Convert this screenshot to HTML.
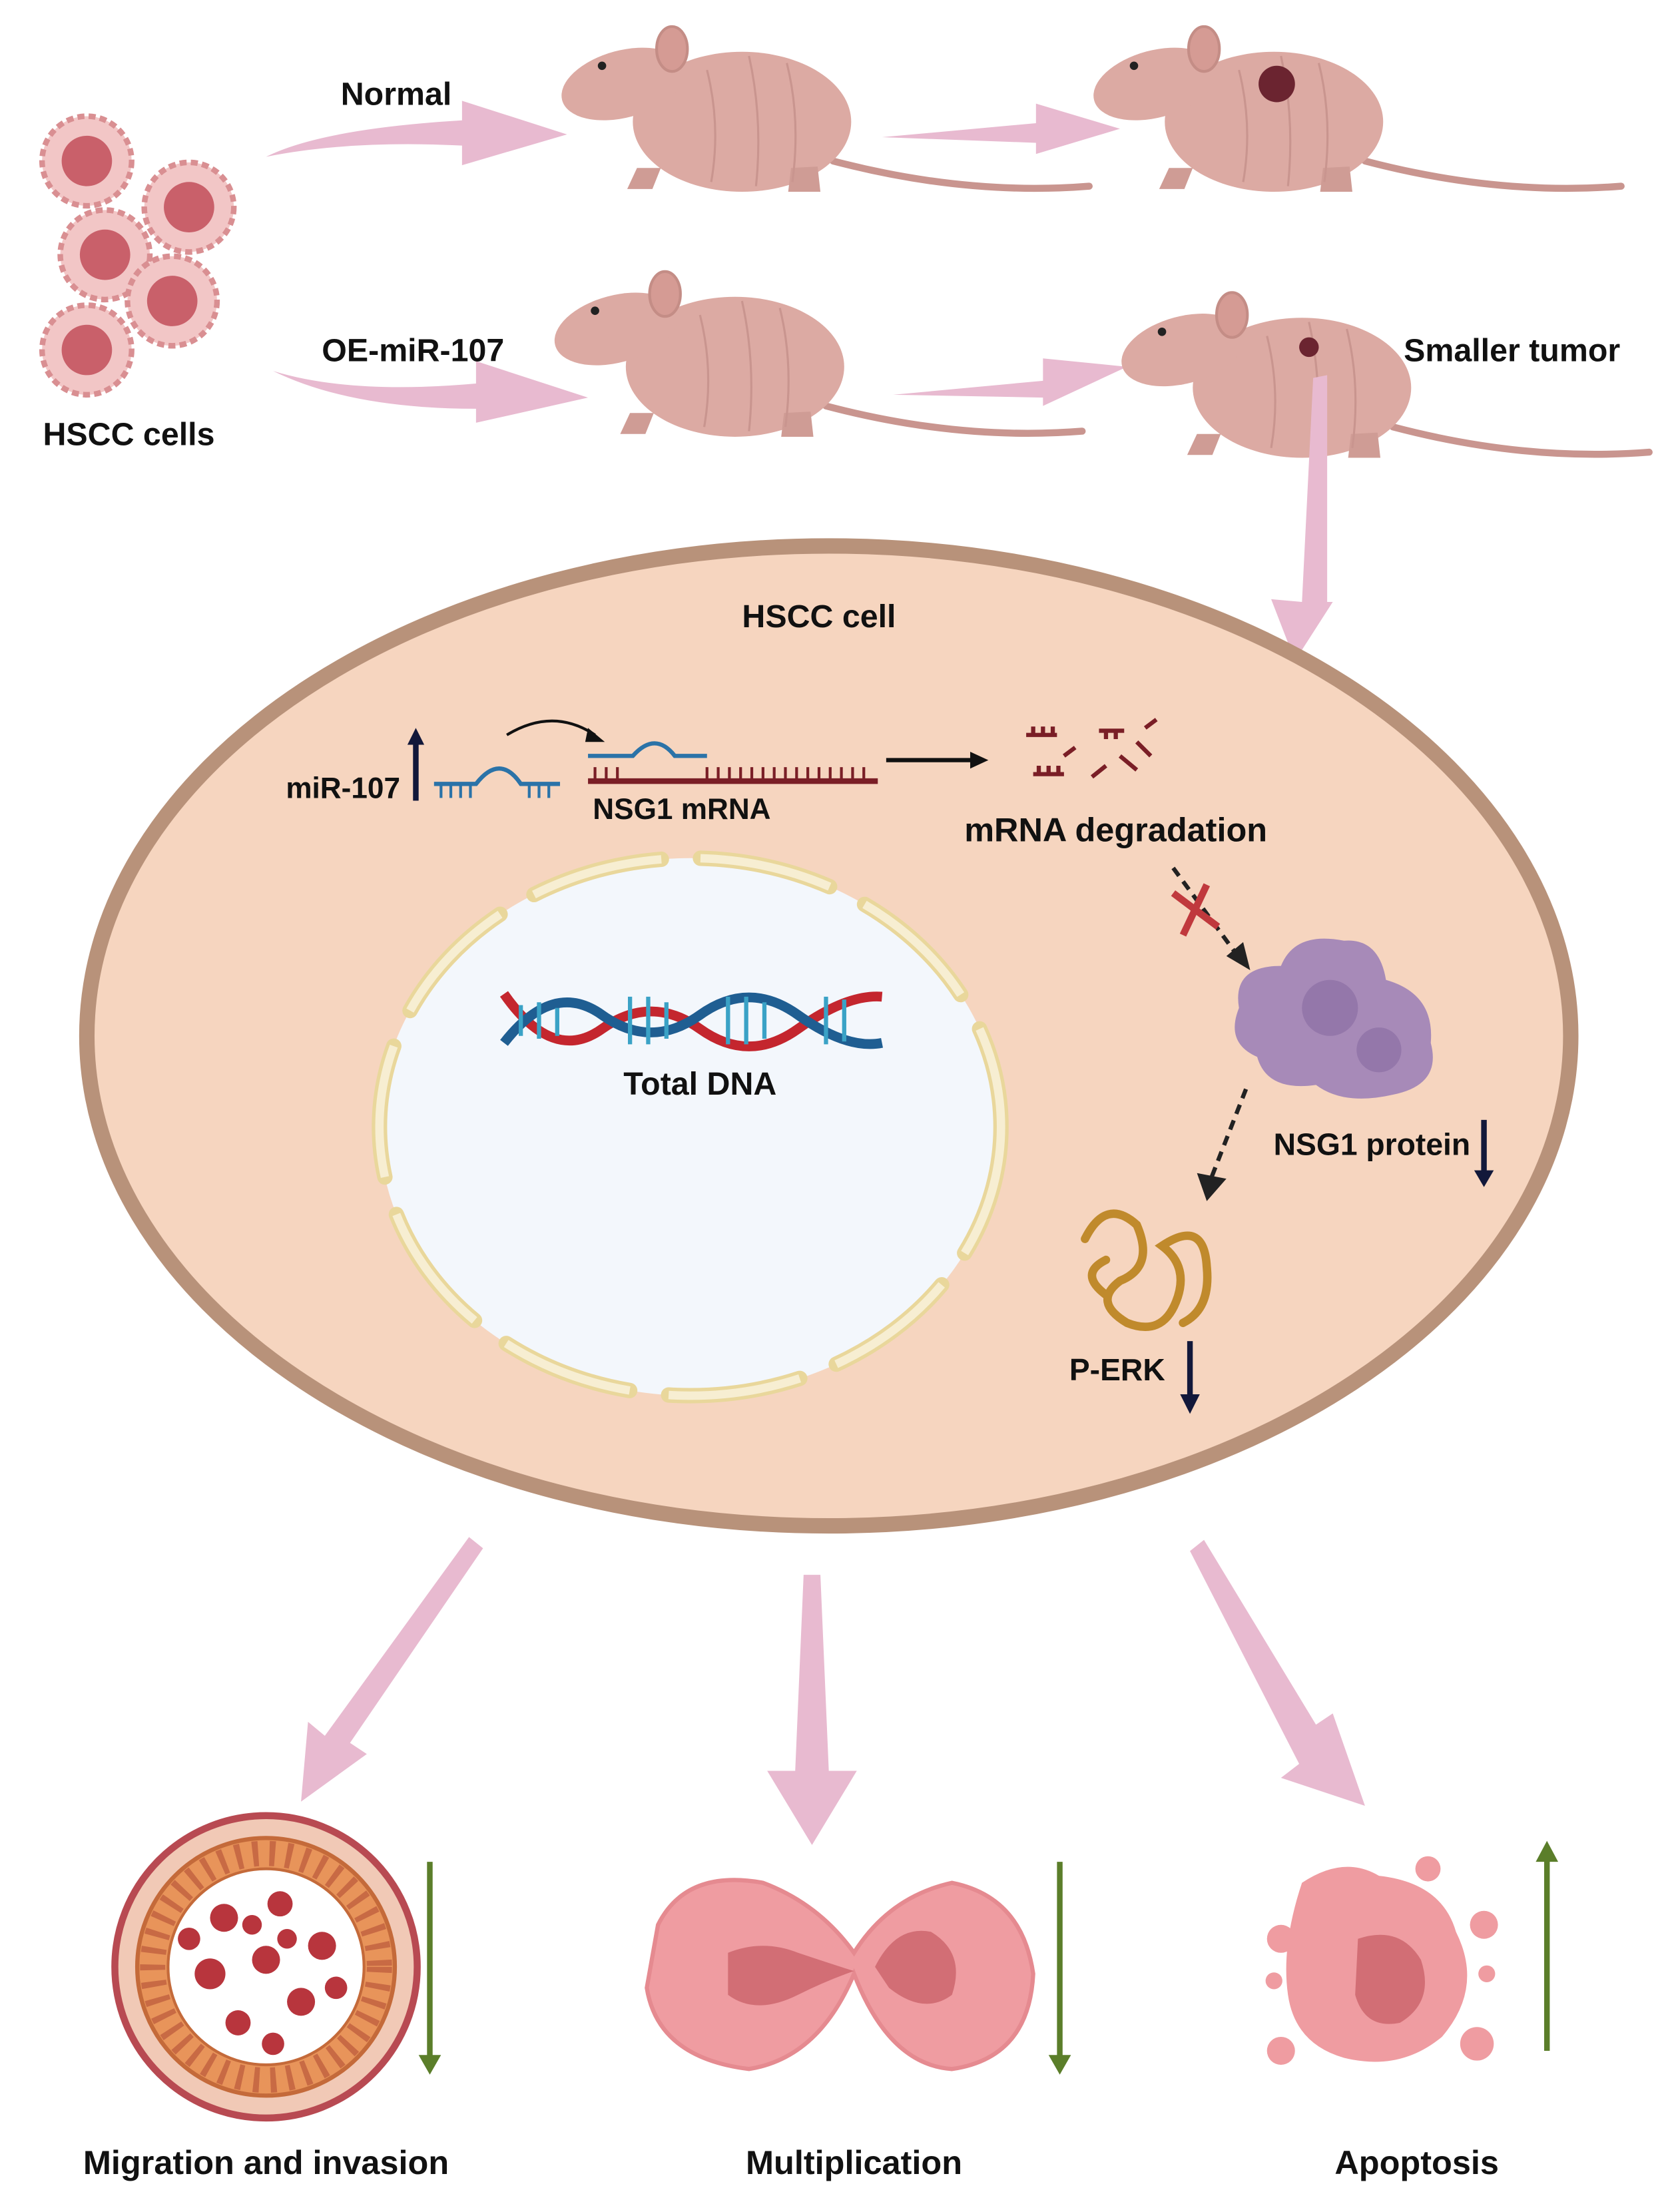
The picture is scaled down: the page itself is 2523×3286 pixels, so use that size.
<!DOCTYPE html>
<html><head><meta charset="utf-8"><style>
html,body{margin:0;padding:0;background:#fff}
svg{display:block}
text{font-family:"Liberation Sans",Arial,sans-serif;font-weight:bold;fill:#111}
</style></head><body>
<svg width="2523" height="3286" viewBox="0 0 1200 1563" xmlns="http://www.w3.org/2000/svg">
<defs>
<g id="mouse">
  <path d="M195,100 Q290,125 378,118" stroke="#c9958f" stroke-width="5" fill="none" stroke-linecap="round"/>
  <ellipse cx="130" cy="72" rx="78" ry="50" fill="#dcaaa3"/>
  <ellipse cx="45" cy="45" rx="45" ry="24" fill="#dcaaa3" transform="rotate(-15 45 45)"/>
  <ellipse cx="80" cy="20" rx="11" ry="16" fill="#d59b94" stroke="#c48d86" stroke-width="2"/>
  <ellipse cx="30" cy="32" rx="3" ry="3" fill="#222"/>
  <path d="M55,105 L48,120 L66,120 L72,105 Z M165,105 L163,122 L186,122 L184,104 Z" fill="#cf9c95"/>
  <path d="M105,35 Q115,75 108,115 M135,25 Q145,70 140,118 M162,30 Q172,70 166,115" stroke="#c9958f" stroke-width="1.5" fill="none"/>
</g>
<g id="cell">
  <circle r="32" fill="#f2c6c6" stroke="#d98f92" stroke-width="4" stroke-dasharray="5 3"/>
  <circle r="18" fill="#c9606a"/>
</g>
</defs>

<!-- HSCC cells -->
<use href="#cell" x="62" y="115"/><use href="#cell" x="135" y="148"/><use href="#cell" x="75" y="182"/>
<use href="#cell" x="123" y="215"/><use href="#cell" x="62" y="250"/>
<text x="92" y="318" font-size="23" text-anchor="middle">HSCC cells</text>

<!-- arrows top -->
<path d="M190,112 Q230,92 330,86 L330,72 L405,96 L330,118 L330,104 Q250,100 190,112 Z" fill="#e8bad0"/>
<path d="M630,98 L740,88 L740,74 L800,92 L740,110 L740,102 Z" fill="#e8bad0"/>
<path d="M195,265 Q250,282 340,274 L340,258 L420,284 L340,302 L340,292 Q250,292 195,265 Z" fill="#e8bad0"/>
<path d="M638,282 L745,272 L745,256 L805,262 L745,290 L745,284 Z" fill="#e8bad0"/>
<text x="283" y="75" font-size="23" text-anchor="middle">Normal</text>
<text x="295" y="258" font-size="23" text-anchor="middle">OE-miR-107</text>

<use href="#mouse" x="400" y="15"/>
<use href="#mouse" x="780" y="15"/>
<use href="#mouse" x="395" y="190"/>
<use href="#mouse" x="800" y="205"/>
<circle cx="912" cy="60" r="13" fill="#6b2430"/>
<circle cx="935" cy="248" r="7" fill="#6b2430"/>
<text x="1080" y="258" font-size="23" text-anchor="middle">Smaller tumor</text>

<!-- down arrow to cell -->
<polygon points="938,270 948,268 948,430 952,430 925,472 908,428 930,430" fill="#e8bad0"/>

<!-- cell -->
<ellipse cx="592" cy="740" rx="530" ry="350" fill="#f6d5bf" stroke="#b8927a" stroke-width="11"/>
<text x="585" y="448" font-size="23" text-anchor="middle">HSCC cell</text>

<!-- nucleus -->
<ellipse cx="493" cy="805" rx="222" ry="192" fill="#f3f7fc"/>
<ellipse cx="493" cy="805" rx="222" ry="192" stroke="#e9d79b" stroke-width="11" fill="none" stroke-dasharray="95 28" stroke-linecap="round"/>
<ellipse cx="493" cy="805" rx="222" ry="192" stroke="#f7eed2" stroke-width="6" fill="none" stroke-dasharray="95 28"/>

<!-- DNA -->
<path d="M360,710 Q395,760 430,735 T500,735 T570,735 T630,712" stroke="#c4262e" stroke-width="7" fill="none"/>
<path d="M360,745 Q395,700 430,725 T500,725 T570,725 T630,745" stroke="#1f5e92" stroke-width="7" fill="none"/>
<g stroke="#3aa2c6" stroke-width="3"><path d="M372,718v22M385,716v26M398,720v20M450,712v34M463,712v34M476,716v26M520,712v34M533,712v34M546,716v26M590,712v34M603,714v30"/></g>
<text x="500" y="782" font-size="23" text-anchor="middle">Total DNA</text>

<!-- miRNA / mRNA -->
<text x="245" y="570" font-size="21" text-anchor="middle">miR-107</text>
<path d="M297,572 V530" stroke="#12183a" stroke-width="4"/><polygon points="291,532 297,520 303,532" fill="#12183a"/>
<path d="M310,560 H340 Q357,538 372,560 H400" stroke="#2b73a8" stroke-width="3" fill="none"/>
<g stroke="#2b73a8" stroke-width="2"><path d="M315,560v10M322,560v10M329,560v10M336,560v10M378,560v10M385,560v10M392,560v10"/></g>
<path d="M362,525 Q395,505 425,525" stroke="#111" stroke-width="2" fill="none"/><polygon points="420,520 432,530 418,530" fill="#111"/>
<path d="M420,558 H627" stroke="#7a1e26" stroke-width="4"/>
<g stroke="#7a1e26" stroke-width="2"><path d="M425,548v10M433,548v10M441,548v10M505,548v10M513,548v10M521,548v10M529,548v10M537,548v10M545,548v10M553,548v10M561,548v10M569,548v10M577,548v10M585,548v10M593,548v10M601,548v10M609,548v10M617,548v10"/></g>
<path d="M420,540 H452 Q468,522 482,540 H505" stroke="#2b73a8" stroke-width="3" fill="none"/>
<text x="487" y="585" font-size="21" text-anchor="middle">NSG1 mRNA</text>
<path d="M633,543 H695" stroke="#111" stroke-width="3"/><polygon points="693,537 706,543 693,549" fill="#111"/>
<g stroke="#7a1e26" stroke-width="3" fill="none">
<path d="M733,525h22M738,525v-6M745,525v-6M752,525v-6"/>
<path d="M738,553h22M742,553v-6M749,553v-6M756,553v-6"/>
<path d="M760,540l8,-6M785,522h18M790,522v6M797,522v6M800,540l12,10M780,555l10,-8M812,530l10,10M818,520l8,-6"/>
</g>
<text x="797" y="601" font-size="24" text-anchor="middle">mRNA degradation</text>

<!-- dashed arrow with X -->
<path d="M838,620 L882,680" stroke="#222" stroke-width="3" stroke-dasharray="7 5"/>
<polygon points="876,683 893,693 888,673" fill="#222"/>
<path d="M838,638 L870,662 M845,668 L862,632" stroke="#c0393d" stroke-width="5"/>

<!-- protein -->
<path d="M885,720 Q880,690 915,690 Q925,665 960,672 Q985,670 990,700 Q1025,710 1022,745 Q1030,775 995,782 Q960,790 940,775 Q905,780 898,755 Q875,745 885,720 Z" fill="#a78ab8"/>
<circle cx="950" cy="720" r="20" fill="#9477aa"/><circle cx="985" cy="750" r="16" fill="#9477aa"/>
<text x="980" y="825" font-size="22" text-anchor="middle">NSG1 protein</text>
<path d="M1060,800 V838" stroke="#12183a" stroke-width="4"/><polygon points="1053,836 1060,848 1067,836" fill="#12183a"/>
<path d="M890,778 L865,842" stroke="#222" stroke-width="3" stroke-dasharray="7 5"/>
<polygon points="855,838 862,858 876,842" fill="#222"/>

<!-- P-ERK -->
<path d="M775,885 Q790,855 812,875 Q825,905 800,915 Q780,930 805,945 Q830,955 840,930 Q850,905 830,890 Q860,870 862,905 Q865,935 845,945 M790,900 Q770,910 790,925" stroke="#c08a2c" stroke-width="6" fill="none" stroke-linecap="round"/>
<text x="798" y="986" font-size="22" text-anchor="middle">P-ERK</text>
<path d="M850,958 V998" stroke="#12183a" stroke-width="4"/><polygon points="843,996 850,1010 857,996" fill="#12183a"/>

<!-- bottom arrows -->
<polygon points="335,1098 345,1106 250,1245 262,1253 215,1287 220,1230 232,1240" fill="#e8bad0"/>
<polygon points="574,1125 586,1125 592,1265 612,1265 580,1318 548,1265 568,1265" fill="#e8bad0"/>
<polygon points="850,1108 860,1100 940,1232 952,1224 975,1290 915,1270 928,1260" fill="#e8bad0"/>

<!-- ring -->
<circle cx="190" cy="1405" r="108" fill="#f1c9b6" stroke="#b84a52" stroke-width="5"/>
<circle cx="190" cy="1405" r="92" fill="#e8945a" stroke="#c46a3a" stroke-width="3"/>
<circle cx="190" cy="1405" r="70" fill="#fff" stroke="#c46a3a" stroke-width="2"/>
<circle cx="190" cy="1405" r="81" fill="none" stroke="#c86a44" stroke-width="18" stroke-dasharray="4 8"/>
<g fill="#b8353d">
<circle cx="160" cy="1370" r="10"/><circle cx="200" cy="1360" r="9"/><circle cx="230" cy="1390" r="10"/><circle cx="150" cy="1410" r="11"/>
<circle cx="190" cy="1400" r="10"/><circle cx="215" cy="1430" r="10"/><circle cx="170" cy="1445" r="9"/><circle cx="135" cy="1385" r="8"/>
<circle cx="240" cy="1420" r="8"/><circle cx="195" cy="1460" r="8"/><circle cx="180" cy="1375" r="7"/><circle cx="205" cy="1385" r="7"/>
</g>

<!-- dividing cell -->
<path d="M470,1375 Q490,1335 545,1345 Q585,1360 610,1395 Q635,1355 680,1345 Q730,1355 738,1410 Q735,1470 680,1478 Q635,1475 610,1410 Q585,1470 535,1478 Q470,1470 462,1420 Z" fill="#ef9ca1" stroke="#e58a90" stroke-width="3"/>
<path d="M520,1395 Q545,1385 570,1395 Q600,1405 610,1408 Q590,1415 570,1425 Q540,1440 520,1425 Z" fill="#d26e75"/>
<path d="M625,1405 Q640,1375 665,1380 Q690,1395 680,1425 Q660,1440 635,1420 Z" fill="#d26e75"/>

<!-- apoptosis -->
<path d="M930,1345 Q960,1325 985,1340 Q1030,1345 1040,1380 Q1060,1420 1030,1455 Q1000,1480 960,1470 Q925,1460 920,1425 Q915,1390 930,1345 Z" fill="#ef9ca1"/>
<path d="M970,1385 Q1000,1375 1015,1400 Q1025,1430 1000,1445 Q975,1450 968,1425 Z" fill="#d26e75"/>
<g fill="#ef9ca1"><circle cx="915" cy="1385" r="10"/><circle cx="910" cy="1415" r="6"/><circle cx="1060" cy="1375" r="10"/><circle cx="1055" cy="1460" r="12"/><circle cx="915" cy="1465" r="10"/><circle cx="1020" cy="1335" r="9"/><circle cx="1062" cy="1410" r="6"/></g>

<!-- green arrows -->
<g stroke="#5b7e2a" stroke-width="4"><path d="M307,1330 V1470"/><path d="M757,1330 V1470"/><path d="M1105,1328 V1465"/></g>
<g fill="#5b7e2a"><polygon points="299,1468 307,1482 315,1468"/><polygon points="749,1468 757,1482 765,1468"/><polygon points="1097,1330 1105,1315 1113,1330"/></g>

<text x="190" y="1553" font-size="24" text-anchor="middle">Migration and invasion</text>
<text x="610" y="1553" font-size="24" text-anchor="middle">Multiplication</text>
<text x="1012" y="1553" font-size="24" text-anchor="middle">Apoptosis</text>
</svg>
</body></html>
